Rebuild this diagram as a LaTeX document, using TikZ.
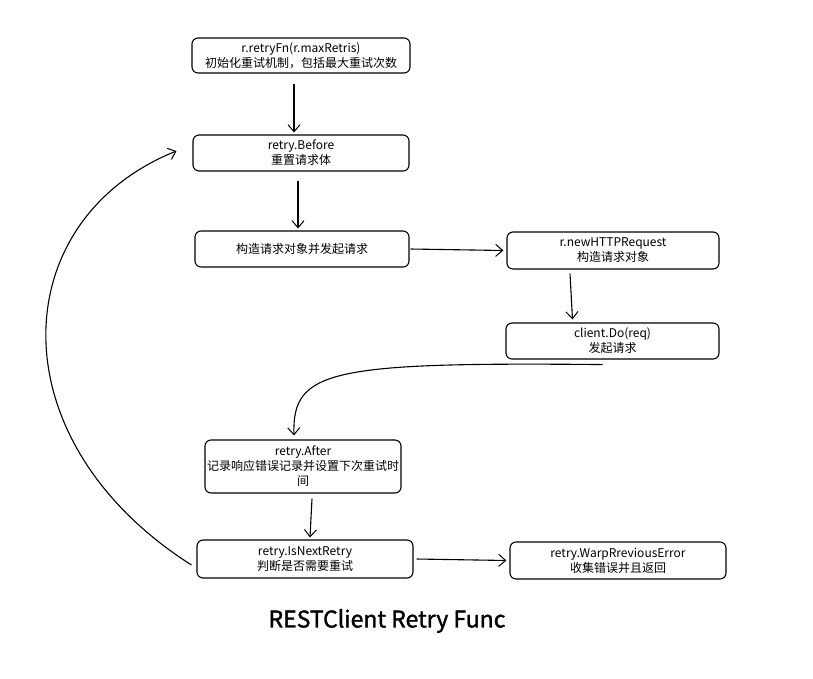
\documentclass[tikz,border=0pt]{standalone}
\usepackage{fontspec}
\setmainfont{Noto Sans CJK SC}
\usetikzlibrary{arrows.meta}
\begin{document}
\begin{tikzpicture}[x=1pt, y=-1pt,
    stepbox/.style={rectangle, draw, rounded corners=6pt, line width=1.1pt, align=center,
        font=\fontsize{12}{15}\selectfont, inner sep=2pt},
    flow/.style={line width=1.1pt, -{Straight Barb[length=7pt, width=12pt, line width=1pt]}}
]
    \useasboundingbox (0,0) rectangle (813,678);

    % Inizializzazione
    \node[stepbox, minimum width=218pt, minimum height=35pt] (init) at (301, 55.5)
        {r.retryFn(r.maxRetris)\\初始化重试机制，包括最大重试次数};
    \node[stepbox, minimum width=216pt, minimum height=36pt] (before) at (301, 153)
        {retry.Before\\重置请求体};

    % Richiesta
    \node[stepbox, minimum width=214pt, minimum height=36pt] (build) at (302, 249)
        {构造请求对象并发起请求};
    \node[stepbox, minimum width=212pt, minimum height=37pt] (newreq) at (613, 250.5)
        {r.newHTTPRequest\\构造请求对象};
    \node[stepbox, minimum width=213pt, minimum height=36pt] (clientdo) at (612.5, 341)
        {client.Do(req)\\发起请求};

    % Dopo la richiesta
    \node[stepbox, minimum width=194pt, minimum height=53pt] (after) at (303, 466.5)
        {retry.After\\记录响应错误记录并设置下次重试时\\间};
    \node[stepbox, minimum width=216pt, minimum height=38pt] (isnext) at (305, 559)
        {retry.IsNextRetry\\判断是否需要重试};
    \node[stepbox, minimum width=216pt, minimum height=37pt] (warp) at (618, 560.5)
        {retry.WarpRreviousError\\收集错误并且返回};

    % Titolo
    \node[font=\fontsize{23}{27}\selectfont\addfontfeature{FakeBold=1.5}] (title) at (387, 621) {RESTClient Retry Func};

    \draw[flow] ([xshift=-7pt, yshift=-10pt]init.south) -- ([xshift=-7pt, yshift=2pt]before.north);
    \draw[flow] ([xshift=-3pt, yshift=-9pt]before.south) -- ([xshift=-4pt, yshift=2pt]build.north);
    \draw[flow] ([xshift=1pt]build.east) -- ([xshift=-3pt]newreq.west);
    \draw[flow] ([xshift=-43pt, yshift=-4pt]newreq.south) -- ([xshift=-40pt, yshift=3pt]clientdo.south |- clientdo.north);
    \draw[flow] ([xshift=-10pt, yshift=-5pt]clientdo.south) .. controls (330, 362) and (292, 370) .. ([xshift=-9pt, yshift=4pt]after.north);
    \draw[flow] ([xshift=9pt, yshift=-5pt]after.south) -- ([xshift=5pt, yshift=2pt]isnext.north);
    \draw[flow] ([xshift=3pt]isnext.east) -- ([xshift=-3pt]warp.west);
    \draw[flow] ([xshift=-5pt, yshift=-6pt]isnext.west) .. controls (-5, 440) and (5, 220) .. ([xshift=-16pt, yshift=2pt]before.west);
\end{tikzpicture}
\end{document}
